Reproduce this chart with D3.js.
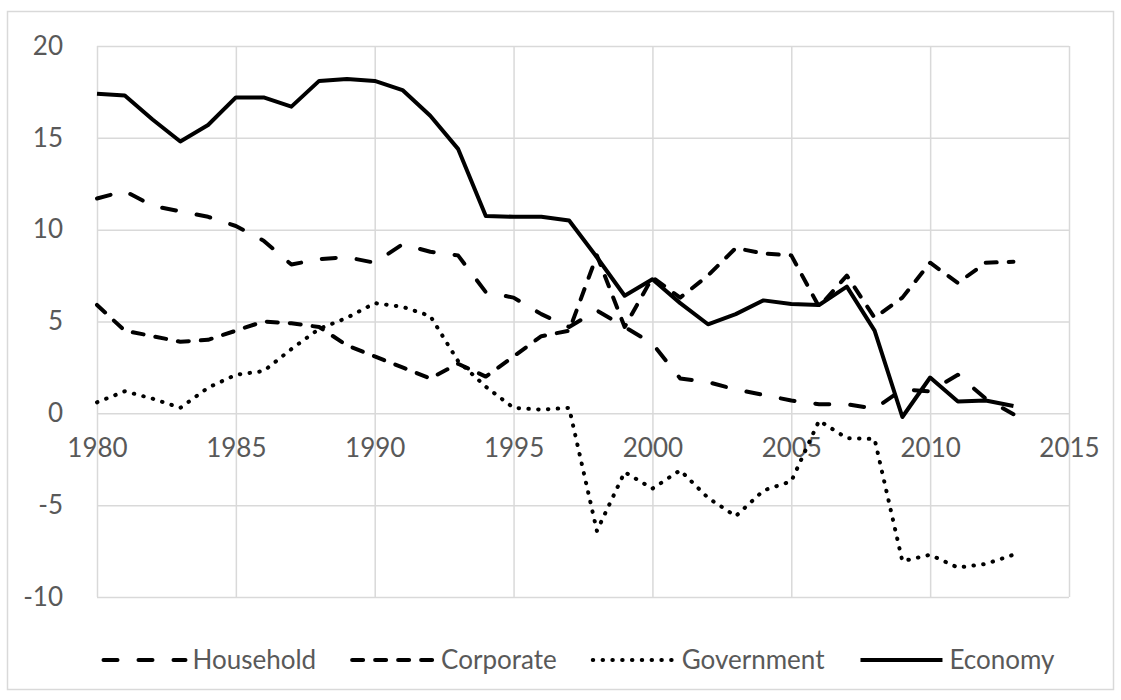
<!DOCTYPE html>
<html>
<head>
<meta charset="utf-8">
<script src="https://cdnjs.cloudflare.com/ajax/libs/d3/7.8.5/d3.min.js"></script>
<style>
  body { margin: 0; background: #fff; }
  svg { display: block; font-family: Lato, "Open Sans", sans-serif; }
</style>
</head>
<body>
<script>
// saving by sector, %
var years = [1980, 1981, 1982, 1983, 1984, 1985, 1986, 1987, 1988, 1989,
             1990, 1991, 1992, 1993, 1994, 1995, 1996, 1997, 1998, 1999,
             2000, 2001, 2002, 2003, 2004, 2005, 2006, 2007, 2008, 2009,
             2010, 2011, 2012, 2013];
var household = [11.7, 12.1, 11.3, 11.0, 10.7, 10.2, 9.4, 8.1, 8.4, 8.5,
                 8.2, 9.2, 8.8, 8.6, 6.6, 6.3, 5.4, 4.7, 5.6, 4.7,
                 3.8, 1.9, 1.7, 1.3, 1.0, 0.7, 0.5, 0.5, 0.25, 1.3,
                 1.2, 2.1, 0.8, -0.05];
var corporate = [5.9, 4.5, 4.2, 3.9, 4.0, 4.5, 5.0, 4.9, 4.7, 3.7,
                 3.1, 2.5, 1.9, 2.7, 2.0, 3.1, 4.2, 4.5, 8.6, 4.7,
                 7.4, 6.3, 7.5, 9.0, 8.7, 8.6, 5.8, 7.5, 5.2, 6.3,
                 8.2, 7.1, 8.2, 8.25];
var government = [0.6, 1.2, 0.8, 0.3, 1.4, 2.1, 2.3, 3.5, 4.6, 5.2,
                  6.0, 5.8, 5.3, 2.85, 1.45, 0.3, 0.2, 0.3, -6.4, -3.2,
                  -4.1, -3.1, -4.6, -5.6, -4.2, -3.7, -0.4, -1.35, -1.4, -8.05,
                  -7.7, -8.4, -8.2, -7.7];
var economy = [17.4, 17.3, 16.0, 14.8, 15.7, 17.2, 17.2, 16.7, 18.1, 18.2,
               18.1, 17.6, 16.2, 14.4, 10.75, 10.7, 10.7, 10.5, 8.5, 6.4,
               7.3, 6.0, 4.85, 5.4, 6.15, 5.95, 5.9, 6.9, 4.5, -0.2,
               1.95, 0.65, 0.7, 0.4];

var seriesNames = ["Household", "Corporate", "Government", "Economy"];
var seriesValues = [household, corporate, government, economy];
var xTicks = [1980, 1985, 1990, 1995, 2000, 2005, 2010, 2015];
var yTicks = [-10, -5, 0, 5, 10, 15, 20];

var svgWidth = 1121,
    svgHeight = 700;
var plotLeft = 97, plotRight = 1069, plotTop = 46, plotBottom = 597;
var gridColor = "#d9d9d9";
var textColor = "#595959";
var fontSize = "26px";

// line styles per series (round caps make the dashes a bit longer)
var dashes = ["14,21", "11,12", "0.5,9.3", null];

var svg = d3.select("body").append("svg")
    .attr("width", svgWidth)
    .attr("height", svgHeight);

// chart border
svg.append("rect")
    .attr("x", 7.5).attr("y", 11.5)
    .attr("width", 1106).attr("height", 678)
    .attr("fill", "white")
    .attr("stroke", gridColor)
    .attr("stroke-width", 1.5);

var x = d3.scaleLinear().domain([1980, 2015]).range([plotLeft, plotRight]);
var y = d3.scaleLinear().domain([-10, 20]).range([plotBottom, plotTop]);

// gridlines
svg.append("g")
    .attr("transform", "translate(" + plotLeft + ",0)")
    .call(d3.axisLeft(y).tickValues(yTicks).tickSize(-(plotRight - plotLeft)).tickFormat(""))
    .call(g => g.select(".domain").remove())
    .call(g => g.selectAll("line").attr("stroke", gridColor).attr("stroke-width", 1.5));

svg.append("g")
    .attr("transform", "translate(0," + plotBottom + ")")
    .call(d3.axisBottom(x).tickValues(xTicks).tickSize(-(plotBottom - plotTop)).tickFormat(""))
    .call(g => g.select(".domain").remove())
    .call(g => g.selectAll("line").attr("stroke", gridColor).attr("stroke-width", 1.5));

// y labels
svg.append("g")
    .attr("transform", "translate(" + plotLeft + ",0)")
    .call(d3.axisLeft(y).tickValues(yTicks).tickSize(0).tickPadding(34).tickFormat(d => String(d)))
    .call(g => g.select(".domain").remove())
    .call(g => g.selectAll("text")
        .attr("fill", textColor)
        .style("font-family", "Lato, sans-serif")
        .style("font-size", fontSize));

// x labels sit on the zero line
svg.append("g")
    .attr("transform", "translate(0," + y(0) + ")")
    .call(d3.axisBottom(x).tickValues(xTicks).tickSize(0).tickPadding(25).tickFormat(d3.format("d")))
    .call(g => g.select(".domain").remove())
    .call(g => g.selectAll("text")
        .attr("fill", textColor)
        .style("font-family", "Lato, sans-serif")
        .style("font-size", fontSize));

var line = d3.line()
    .x((d, i) => x(years[i]))
    .y(d => y(d));

svg.selectAll(".series")
    .data(seriesValues)
    .enter()
    .append("path")
    .attr("class", "series")
    .attr("d", d => line(d))
    .attr("fill", "none")
    .attr("stroke", "black")
    .attr("stroke-width", 4)
    .attr("stroke-linecap", (d, i) => i == 3 ? "butt" : "round")
    .attr("stroke-linejoin", "round")
    .attr("stroke-dasharray", (d, i) => dashes[i]);

// legend, items laid out by their text width and centred
var legendY = 660, swatch = 82, textGap = 7, itemGap = 36, legendCenter = 579;
var legend = svg.append("g");
var items = legend.selectAll("g")
    .data(seriesNames)
    .enter()
    .append("g");

items.append("line")
    .attr("x1", 0).attr("x2", swatch)
    .attr("y1", legendY).attr("y2", legendY)
    .attr("stroke", "black")
    .attr("stroke-width", 4)
    .attr("stroke-linecap", (d, i) => i == 3 ? "butt" : "round")
    .attr("stroke-dasharray", (d, i) => dashes[i]);

items.append("text")
    .text(d => d)
    .attr("x", swatch + textGap)
    .attr("y", legendY)
    .attr("dy", "0.35em")
    .attr("fill", textColor)
    .style("font-size", fontSize);

var widths = [];
items.each(function() {
    widths.push(swatch + textGap + d3.select(this).select("text").node().getComputedTextLength());
});
var total = d3.sum(widths) + itemGap * (widths.length - 1);
var cursor = legendCenter - total / 2;
items.attr("transform", function(d, i) {
    var t = "translate(" + cursor + ",0)";
    cursor += widths[i] + itemGap;
    return t;
});
</script>
</body>
</html>
